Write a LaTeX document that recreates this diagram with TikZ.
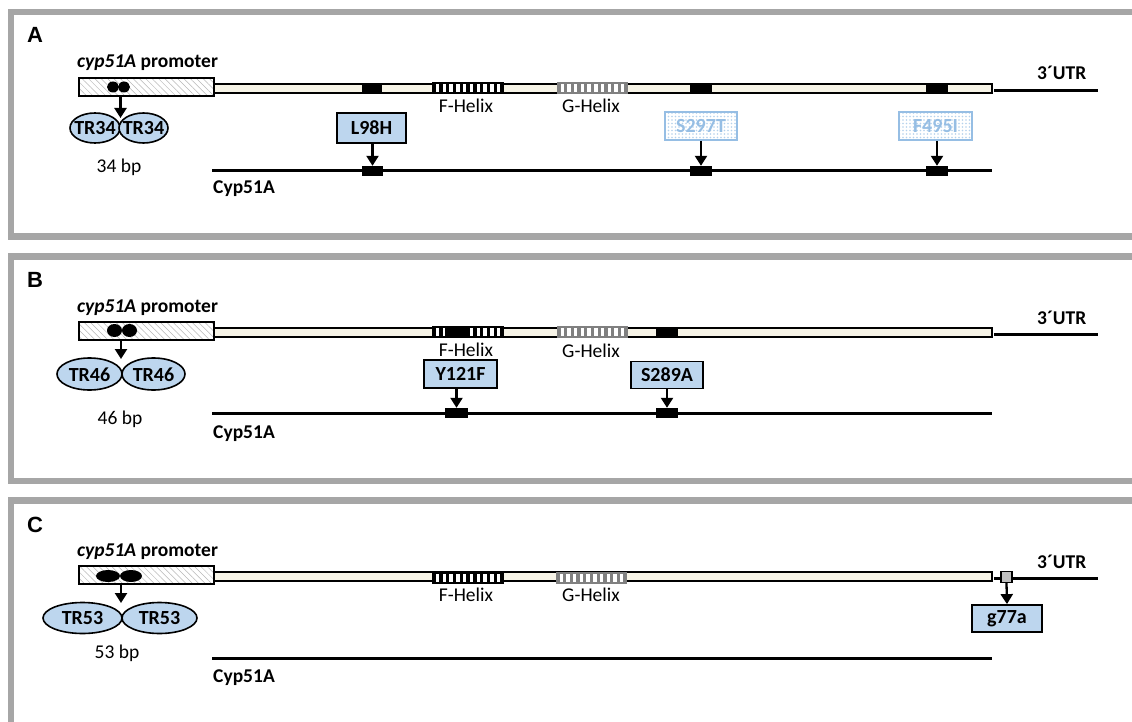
\documentclass[tikz,border=0pt]{standalone}
\usepackage{fontspec}
\setmainfont{Carlito}
\newfontfamily\panelfont{Liberation Sans}
\usetikzlibrary{shapes.geometric,patterns,patterns.meta,arrows.meta}
\definecolor{lblue}{RGB}{189,214,238}
\definecolor{gblue}{RGB}{150,190,228}
\definecolor{panelgray}{RGB}{166,166,166}
\definecolor{cream}{RGB}{246,243,230}
\definecolor{hgray}{RGB}{128,128,128}
\newcommand\helixbar[5]{%
  \node[helixbox, fill=#5, minimum width={#3-#2}] (#1) at ({(#2+#3)/2},#4) {};
  \pgfmathsetmacro\hp{(#3-#2-4)/10}
  \foreach \i in {0,...,9}{\fill[white] ({#2+2+\i*\hp+0.25*\hp},{#4-4}) rectangle ++({0.5*\hp},8);}
}
\begin{document}
\begin{tikzpicture}[x=1pt,y=-1pt,
  panel/.style={draw=panelgray,line width=6.5pt},
  lbl/.style={inner sep=0,font=\fontsize{19.5}{22}\selectfont},
  blbl/.style={lbl,font=\fontsize{19.5}{22}\selectfont\bfseries},
  panellbl/.style={inner sep=0,font=\panelfont\fontsize{22}{24}\selectfont\bfseries,anchor=base west},
  promoter/.style={rectangle,draw=black,line width=1.5pt,inner sep=0,
     minimum width=135pt,minimum height=18pt,
     preaction={fill=white},
     preaction={pattern={Lines[angle=-45,distance=4.5pt,line width=0.5pt]},pattern color=black!28}},
  generect/.style={draw=black,line width=1.4pt,fill=cream},
  utr/.style={line width=3pt},
  cds/.style={line width=3pt},
  helixbox/.style={rectangle,inner sep=0,minimum height=12pt,draw=none},
  exon/.style={rectangle,fill=black,inner sep=0,minimum width=21pt,minimum height=9pt},
  lexon/.style={exon,minimum width=22pt,minimum height=10pt},
  mutbox/.style={rectangle,draw=black,line width=1.8pt,fill=lblue,inner sep=0,
     font=\fontsize{20}{22}\selectfont\bfseries,minimum width=70pt,minimum height=28pt},
  ghost/.style={rectangle,draw=gblue,line width=1.6pt,inner sep=0,text=gblue,
     font=\fontsize{20}{22}\selectfont\bfseries,minimum width=72pt,minimum height=28pt,
     preaction={fill=white},
     preaction={pattern={Dots[distance=3.5pt,radius=0.9pt]},pattern color=gblue!70}},
  trell/.style={ellipse,draw=black,line width=1.6pt,fill=lblue,inner sep=0},
  trtxt/.style={inner sep=0,font=\fontsize{20}{22}\selectfont\bfseries},
  dot/.style={ellipse,fill=black,inner sep=0},
  arr/.style={line width=2.3pt,-{Triangle[width=12pt,length=10pt]}}]
\useasboundingbox (0,0) rectangle (1132,722);
\clip (0,0) rectangle (1132,722);
\fill[white] (0,0) rectangle (1132,722);

% ---------- panel frames
\draw[panel] (11,12) rectangle (1150,236.5);
\draw[panel] (11,256.5) rectangle (1150,481);
\draw[panel] (11,500.5) rectangle (1150,726);

% =============== PANEL A
\node[panellbl] (labA) at (27,43) {A};
\node[blbl,anchor=base west] (promtxtA) at (77,68) {\itshape cyp51A\upshape{} promoter};
\draw[generect] (214,84) rectangle (992,93);
\draw[utr] (994,90.5) -- (1098,90.5);
\node[blbl,anchor=base west] (utrA) at (1037,80) {3´UTR};
\node[promoter] (promA) at (146.5,87) {};
\node[dot,minimum width=12pt,minimum height=11pt] (dA1) at (113,87) {};
\node[dot,minimum width=12pt,minimum height=11pt] (dA2) at (124,87) {};
\helixbar{fA}{432}{504}{88}{black}
\helixbar{gA}{557}{628}{88}{hgray}
\node[lbl,anchor=base] (fAt) at (466,112.5) {F-Helix};
\node[lbl,anchor=base] (gAt) at (591,113) {G-Helix};
\node[exon,minimum width=20pt] (tA1) at (372,88.5) {};
\node[exon,minimum width=22pt] (tA2) at (701,88.5) {};
\node[exon,minimum width=22pt] (tA3) at (937,88.5) {};
% TR ellipses
\node[trell,minimum width=50pt,minimum height=30pt] (eA1) at (95,128) {};
\node[trell,minimum width=49pt,minimum height=30pt] (eA2) at (143.5,128) {};
\node[trtxt] (eA1t) at (95,128.5) {TR34};
\node[trtxt] (eA2t) at (143.5,128.5) {TR34};
\coordinate (pA) at (120.5,96);
\coordinate (jA) at (120.5,118);
\draw[arr] (pA) -- (jA);
\node[lbl,anchor=base] (bpA) at (119,173) {34 bp};
% coding line
\draw[cds] (212,171) -- (992,171);
\node[blbl,anchor=base west] (cypA) at (213,194) {Cyp51A};
\node[lexon,minimum width=21pt] (mA1) at (372.5,171) {};
\node[lexon] (mA2) at (701,171) {};
\node[lexon] (mA3) at (937,171) {};
\node[mutbox,minimum width=69pt,minimum height=30pt] (L98H) at (371.5,128) {L98H};
\node[ghost] (S297T) at (701,126) {S297T};
\node[ghost,minimum width=73pt] (F495I) at (935.5,126) {F495I};
\draw[arr] (L98H.south -| mA1) -- (mA1.north);
\draw[arr] (S297T.south -| mA2) -- (mA2.north);
\draw[arr] (F495I.south -| mA3) -- (mA3.north);

% =============== PANEL B
\node[panellbl] (labB) at (27,287) {B};
\node[blbl,anchor=base west] (promtxtB) at (77,312) {\itshape cyp51A\upshape{} promoter};
\draw[generect] (214,328) rectangle (992,337);
\draw[utr] (994,334.5) -- (1098,334.5);
\node[blbl,anchor=base west] (utrB) at (1037,324) {3´UTR};
\node[promoter] (promB) at (146.5,331) {};
\node[dot,minimum width=15pt,minimum height=13pt] (dB1) at (114.5,330.5) {};
\node[dot,minimum width=15pt,minimum height=13pt] (dB2) at (129.5,330.5) {};
\helixbar{fB}{432}{504}{332}{black}
\helixbar{gB}{557}{628}{332}{hgray}
\node[exon,minimum height=10pt] (tB1) at (455.5,332) {};
\node[exon,minimum width=22pt] (tB2) at (667,332.5) {};
\node[lbl,anchor=base] (fBt) at (466,356) {F-Helix};
\node[lbl,anchor=base] (gBt) at (591,357) {G-Helix};
\node[trell,minimum width=65pt,minimum height=32pt] (eB1) at (89.5,374) {};
\node[trell,minimum width=63pt,minimum height=32pt] (eB2) at (153.5,374) {};
\node[trtxt] (eB1t) at (89.5,374.5) {TR46};
\node[trtxt] (eB2t) at (153.5,374.5) {TR46};
\coordinate (pB) at (121,340);
\coordinate (jB) at (121,359);
\draw[arr] (pB) -- (jB);
\node[lbl,anchor=base] (bpB) at (120,424) {46 bp};
\draw[cds] (212,413) -- (992,413);
\node[blbl,anchor=base west] (cypB) at (213,438) {Cyp51A};
\node[lexon,minimum width=23pt] (mB1) at (456.5,413) {};
\node[lexon] (mB2) at (667,413) {};
\node[mutbox,minimum width=73pt] (Y121F) at (460.5,374) {Y121F};
\node[mutbox,minimum width=72pt,minimum height=27pt] (S289A) at (667,375) {S289A};
\draw[arr] (Y121F.south -| mB1) -- (mB1.north);
\draw[arr] (S289A.south -| mB2) -- (mB2.north);

% =============== PANEL C
\node[panellbl] (labC) at (27,532) {C};
\node[blbl,anchor=base west] (promtxtC) at (77,556) {\itshape cyp51A\upshape{} promoter};
\draw[generect] (214,572) rectangle (992,581);
\draw[utr] (994,578.5) -- (1098,578.5);
\node[blbl,anchor=base west] (utrC) at (1037,568) {3´UTR};
\node[promoter] (promC) at (146.5,575) {};
\node[dot,minimum width=24pt,minimum height=12pt] (dC1) at (108,576) {};
\node[dot,minimum width=22pt,minimum height=12pt] (dC2) at (131,576) {};
\helixbar{fC}{432}{504}{578}{black}
\helixbar{gC}{556}{627}{578}{hgray}
\node[lbl,anchor=base] (fCt) at (466,601) {F-Helix};
\node[lbl,anchor=base] (gCt) at (591,601.5) {G-Helix};
\node[trell,minimum width=79pt,minimum height=31pt] (eC1) at (82.5,618) {};
\node[trell,minimum width=75pt,minimum height=31pt] (eC2) at (159.5,618) {};
\node[trtxt] (eC1t) at (82.5,618.5) {TR53};
\node[trtxt] (eC2t) at (159.5,618.5) {TR53};
\coordinate (pC) at (121,584);
\coordinate (jC) at (121,603);
\draw[arr] (pC) -- (jC);
\node[lbl,anchor=base] (bpC) at (117,658) {53 bp};
\draw[cds] (212,658) -- (992,658);
\node[blbl,anchor=base west] (cypC) at (213,682) {Cyp51A};
\node[rectangle,draw=black,line width=1.4pt,fill=black!25,inner sep=0,minimum width=11pt,minimum height=11pt] (sqC) at (1006.5,577) {};
\node[mutbox,minimum width=70pt,minimum height=27pt] (g77a) at (1007,618.5) {g77a};
\draw[arr] (sqC.south) -- (g77a.north);
\end{tikzpicture}
\end{document}
